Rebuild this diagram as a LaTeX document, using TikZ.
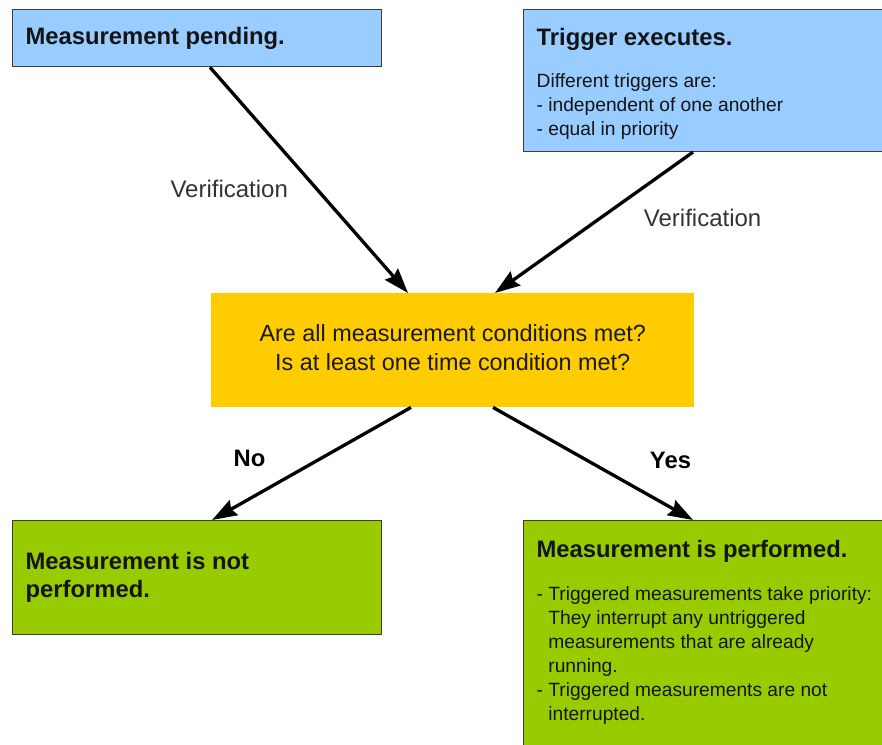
\documentclass[tikz,border=0pt]{standalone}
\usepackage{fontspec}
\setmainfont{Liberation Sans}
\usetikzlibrary{arrows.meta}
\definecolor{fcwait}{RGB}{153,204,255}
\definecolor{fccheck}{RGB}{255,204,0}
\definecolor{fcdone}{RGB}{153,204,0}
\definecolor{fcedge}{RGB}{60,60,60}
\newcommand{\hdfont}{\fontsize{23.8}{28}\selectfont\bfseries}
\newcommand{\txfont}{\fontsize{19.2}{24}\selectfont}
\newcommand{\dashitem}{\par\hangindent=11.7pt\hangafter=1\noindent-\ }
\newcommand{\topblock}[2]{\begin{minipage}[c][#1][t]{\linewidth}\raggedright #2\end{minipage}}

\begin{document}
\begin{tikzpicture}[
    x=1pt, y=-1pt,
    >={Stealth[length=25pt,width=17pt,inset=3pt]},
    flow/.style={->, line width=3.3pt, black},
    stage/.style={draw=fcedge, line width=1.3pt, anchor=north west, inner xsep=13pt, inner ysep=0pt, align=flush left, text=black!92},
    wait/.style={stage, fill=fcwait},
    done/.style={stage, fill=fcdone},
    check/.style={fill=fccheck, anchor=north west, align=center, minimum width=483pt, minimum height=114pt,
                  font=\fontsize{23.4}{29}\selectfont, text=black!90},
    tag/.style={font=\fontsize{24}{28}\selectfont, text=black!80},
    answer/.style={font=\hdfont, text=black},
  ]

  \useasboundingbox (0,0) rectangle (882,744);
  \clip (0,0) rectangle (882,744);

  %% ================= the two starting states =================
  \node[wait, text width=343pt, minimum height=57pt, font=\hdfont] (pending) at (12,9) {Measurement pending.};
  \node[wait, text width=361pt, inner ysep=18.4pt] (trigger) at (523,9) {\topblock{105pt}{%
      {\hdfont Trigger executes.\par}\vspace{18.6pt}
      {\txfont Different triggers are:\\- independent of one another\\- equal in priority\par}}};

  %% ================= the check =================
  \node[check] (cond) at (211,293) {Are all measurement conditions met?\\Is at least one time condition met?\\[-23pt]};

  %% ================= the outcomes =================
  \node[done, text width=343pt, minimum height=114pt, font=\hdfont] (skip) at (12,520) {Measurement is not\\performed.};
  % this box runs on past the lower edge of the picture
  \node[done, text width=361pt, inner ysep=20pt] (run) at (523,520) {\topblock{215pt}{%
      {\hdfont Measurement is performed.\par}\vspace{18.6pt}
      {\txfont
       \dashitem Triggered measurements take priority:\newline They interrupt any untriggered\newline
         measurements that are already\newline running.
       \dashitem Triggered measurements are not\newline interrupted.\par}}};

  %% ================= connectors =================
  \draw[flow] ([xshift=198pt]pending.south west) -- ([xshift=197pt]cond.north west)
    node[tag, pos=.54, left=24pt] {Verification};
  \draw[flow] ([xshift=170pt]trigger.south west) -- ([xshift=284pt]cond.north west)
    node[tag, pos=.47, right=39pt] {Verification};
  \draw[flow] ([xshift=200pt]cond.south west) -- ([xshift=200pt]skip.north west)
    node[answer, pos=.45, left=51pt] {No};
  \draw[flow] ([xshift=282pt]cond.south west) -- ([xshift=170pt]run.north west)
    node[answer, pos=.47, right=58pt] {Yes};

\end{tikzpicture}
\end{document}
